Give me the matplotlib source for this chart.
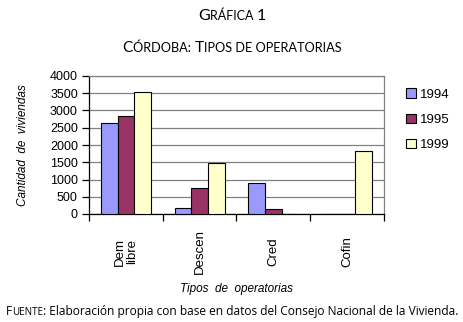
import numpy as np
import matplotlib
matplotlib.use('Agg')
import matplotlib.pyplot as plt
from matplotlib.patches import Patch

categories = ['Dem\nlibre', 'Descen', 'Cred', 'Cofin']
years = ['1994', '1995', '1999']
values_1994 = [2650, 170, 890, 0]
values_1995 = [2830, 750, 145, 0]
values_1999 = [3530, 1470, 0, 1830]
colors = ['#9999FF', '#993366', '#FFFFCC']
yticks = [0, 500, 1000, 1500, 2000, 2500, 3000, 3500, 4000]

plt.rcParams['font.family'] = ['Liberation Sans', 'DejaVu Sans']

W, H, DPI = 464, 322, 100
fig = plt.figure(figsize=(W / DPI, H / DPI), dpi=DPI)
ax = fig.add_axes([89 / W, 1 - 214 / H, 295 / W, 138 / H])

x = np.arange(len(categories))
bw = 0.225
series = [values_1994, values_1995, values_1999]
for i, (vals, c) in enumerate(zip(series, colors)):
    ax.bar(x + (i - 1) * bw, vals, width=bw, color=c, edgecolor='black',
           linewidth=0.8, zorder=3)

ax.set_xlim(-0.5, len(categories) - 0.5)
ax.set_ylim(0, 4000)
ax.set_yticks(yticks)
ax.set_yticklabels([str(v) for v in yticks], fontsize=9)
ax.yaxis.grid(True, color='#808080', linewidth=0.9, zorder=0)
ax.tick_params(axis='y', length=5, width=0.9, pad=3)

ax.set_xticks(x)
ax.set_xticklabels(categories, rotation=90, fontsize=9.5, va='center',
                   linespacing=0.95)
ax.set_xticks(np.arange(len(categories) + 1) - 0.5, minor=True)
ax.tick_params(axis='x', which='major', length=0, pad=27)
ax.tick_params(axis='x', which='minor', length=5, width=0.9)

for s in ['left', 'bottom']:
    ax.spines[s].set_color('black')
    ax.spines[s].set_linewidth(0.9)
for s in ['top', 'right']:
    ax.spines[s].set_color('#808080')
    ax.spines[s].set_linewidth(0.9)

ax.set_ylabel('Cantidad  de  viviendas', fontsize=8.5, style='italic',
              family=['Liberation Sans Narrow', 'Liberation Sans'])
ax.yaxis.set_label_coords(-0.203, 0.5)
ax.set_xlabel('Tipos  de  operatorias', fontsize=8.5, style='italic',
              family=['Liberation Sans Narrow', 'Liberation Sans'])
ax.xaxis.set_label_coords(0.5, (214 - 283) / 138)

handles = [Patch(facecolor=c, edgecolor='black', linewidth=0.8) for c in colors]
fig.legend(handles, years, loc='upper left', bbox_to_anchor=(401 / W, 1 - 83 / H),
           frameon=False, fontsize=9.5, handlelength=0.7, handleheight=0.7,
           handletextpad=0.3, labelspacing=1.0, borderaxespad=0)


def small_caps(pieces, y, family):
    # draw text pieces side by side and center the whole line
    renderer = fig.canvas.get_renderer()
    texts = []
    for s, size in pieces:
        t = fig.text(0, y, s, fontsize=size, family=family, va='baseline',
                     ha='left')
        texts.append(t)
    widths = [t.get_window_extent(renderer).width for t in texts]
    total = sum(widths)
    left = (W - total) / 2
    for t, w in zip(texts, widths):
        t.set_x(left / W)
        left += w


small_caps([('G', 11.5), ('RÁFICA ', 9), ('1', 11.5)], 1 - 20 / H,
           ['Lato', 'DejaVu Sans'])
small_caps([('C', 11.2), ('ÓRDOBA: ', 9.2), ('T', 11.2),
            ('IPOS DE OPERATORIAS', 9.2)], 1 - 52 / H, ['Lato', 'DejaVu Sans'])
small_caps([('F', 8.6), ('UENTE', 7.1), (': Elaboración propia con base en datos '
            'del Consejo Nacional de la Vivienda.', 8.6)], 1 - 315 / H,
           ['Open Sans', 'DejaVu Sans'])

fig.savefig('out.png', dpi=DPI)
